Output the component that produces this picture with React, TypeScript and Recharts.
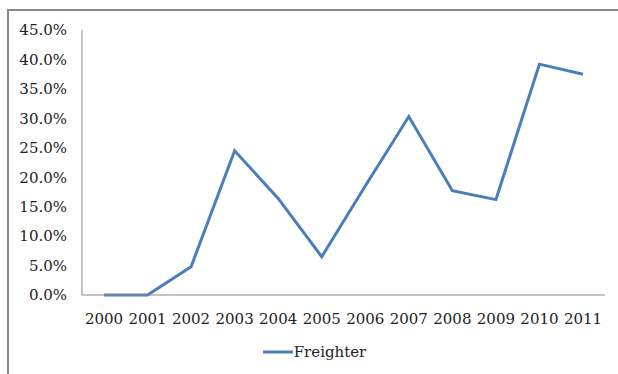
import { LineChart, Line, XAxis, YAxis, Legend } from 'recharts'

const years = ['2000', '2001', '2002', '2003', '2004', '2005', '2006', '2007', '2008', '2009', '2010', '2011']
const freighter = [0, 0, 4.8, 24.5, 16.4, 6.5, 18.5, 30.3, 17.7, 16.2, 39.2, 37.5]
const yTicks = [0, 5, 10, 15, 20, 25, 30, 35, 40, 45]

const chartData = years.map((year, i) => ({ year, freighter: freighter[i] }))

const FONT = '"DejaVu Serif", serif'
const LINE_COLOR = '#4a7ebb'

const LegendContent = () => (
  <div style={{ display: 'flex', justifyContent: 'center', alignItems: 'center', fontFamily: FONT, fontSize: 15, color: '#222', height: 18, paddingLeft: 10 }}>
    <svg width={32} height={10}>
      <line x1={1} y1={5} x2={31} y2={5} stroke={LINE_COLOR} strokeWidth={3} />
    </svg>
    <span>Freighter</span>
  </div>
)

export default function App() {
  return (
    <div style={{ position: 'absolute', left: 0, top: 0, width: 618, height: 374, background: '#fff', overflow: 'hidden' }}>
      <div
        style={{
          position: 'absolute',
          left: 7,
          top: 9,
          right: -10,
          bottom: -10,
          borderTop: '2px solid #8a8a8a',
          borderLeft: '2px solid #8a8a8a',
        }}
      />
      <LineChart width={618} height={374} data={chartData} margin={{ top: 30, right: 13, left: 0, bottom: 9 }}>
        <XAxis
          dataKey="year"
          padding={{ left: 22, right: 22 }}
          tickLine={false}
          axisLine={{ stroke: '#8a8a8a' }}
          tick={{ fontFamily: FONT, fontSize: 15, fill: '#222' }}
          tickMargin={12}
          height={30}
          interval={0}
        />
        <YAxis
          domain={[0, 45]}
          ticks={yTicks}
          tickFormatter={(v) => `${v.toFixed(1)}%`}
          tickLine={false}
          axisLine={{ stroke: '#8a8a8a' }}
          tick={{ fontFamily: FONT, fontSize: 15, fill: '#222' }}
          tickMargin={9}
          width={82}
        />
        <Legend
          verticalAlign="bottom"
          height={40}
          content={<LegendContent />}
          wrapperStyle={{ top: 343, left: 0, width: 618, bottom: 'auto' }}
        />
        <Line
          type="linear"
          dataKey="freighter"
          name="Freighter"
          stroke={LINE_COLOR}
          strokeWidth={3}
          dot={false}
          isAnimationActive={false}
        />
      </LineChart>
    </div>
  )
}
